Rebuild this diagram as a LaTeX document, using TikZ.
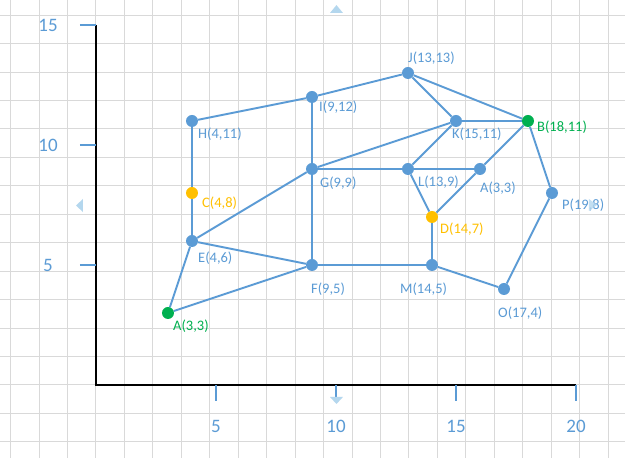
\documentclass[tikz,border=0pt]{standalone}
\usepackage{fontspec}
\setmainfont{Carlito}
\definecolor{gridc}{HTML}{D9D9D9}
\definecolor{blu}{HTML}{5B9BD5}
\definecolor{grn}{HTML}{00B050}
\definecolor{yel}{HTML}{FFC000}
\definecolor{hint}{HTML}{B4D7EE}
\tikzset{
  dotnode/.style={circle,fill=#1,inner sep=0pt,minimum size=12pt},
  dotnode/.default=blu,
  edge/.style={draw=blu,line width=1.9pt},
  lbl/.style={anchor=west,inner sep=0pt,text=#1,font=\fontsize{14.5}{17}\selectfont},
  lbl/.default=blu,
  axlbl/.style={inner sep=0pt,text=blu,font=\fontsize{19}{22}\selectfont},
  tick/.style={draw=blu,line width=1.5pt},
  hintmark/.style={fill=hint,draw=none}
}
\begin{document}
\begin{tikzpicture}[x=24pt,y=24pt]
\useasboundingbox (-4,-3.0417) rectangle (22.0417,16.0417);
\fill[white] (-4,-3.0417) rectangle (22.0417,16.0417);
\draw[gridc,line width=1pt] (-4,-3.0417) grid (22.0417,16.0417);
% axes
\draw[black,line width=1.5pt] (0,15) -- (0,0) -- (20,0);
\foreach \y in {5,10,15} \draw[tick] (-0.67,\y) -- (0,\y);
\foreach \x in {5,10,15,20} \draw[tick] (\x,0) -- (\x,-0.67);
\node[axlbl] (y15) at (-2,15) {15};
\node[axlbl] (y10) at (-2,10) {10};
\node[axlbl] (y5) at (-2,5) {5};
\node[axlbl] (x5) at (5,-1.71) {5};
\node[axlbl] (x10) at (10,-1.71) {10};
\node[axlbl] (x15) at (15,-1.71) {15};
\node[axlbl] (x20) at (20,-1.71) {20};
% hint markers
\fill[hintmark] (9.75,15.5) -- (10.29,15.5) -- (10.02,15.83) -- cycle;
\fill[hintmark] (-0.542,7.75) -- (-0.542,7.208) -- (-0.833,7.479) -- cycle;
\fill[hintmark] (9.75,-0.5) -- (10.29,-0.5) -- (10.02,-0.79) -- cycle;
% points
\node[dotnode=grn] (A) at (3,3) {};
\node[dotnode] (E) at (4,6) {};
\node[dotnode=yel] (C) at (4,8) {};
\node[dotnode] (H) at (4,11) {};
\node[dotnode] (I) at (9,12) {};
\node[dotnode] (J) at (13,13) {};
\node[dotnode] (G) at (9,9) {};
\node[dotnode] (F) at (9,5) {};
\node[dotnode] (K) at (15,11) {};
\node[dotnode=grn] (B) at (18,11) {};
\node[dotnode] (L) at (13,9) {};
\node[dotnode] (A2) at (16,9) {};
\node[dotnode=yel] (D) at (14,7) {};
\node[dotnode] (M) at (14,5) {};
\node[dotnode] (O) at (17,4) {};
\node[dotnode] (P) at (19,8) {};
% edges
\path[edge] (A) -- (E);
\path[edge] (A) -- (F);
\path[edge] (E) -- (C);
\path[edge] (C) -- (H);
\path[edge] (H) -- (I);
\path[edge] (I) -- (J);
\path[edge] (I) -- (G);
\path[edge] (G) -- (F);
\path[edge] (E) -- (G);
\path[edge] (E) -- (F);
\path[edge] (F) -- (M);
\path[edge] (M) -- (D);
\path[edge] (D) -- (L);
\path[edge] (D) -- (A2);
\path[edge] (G) -- (L);
\path[edge] (L) -- (A2);
\path[edge] (G) -- (K);
\path[edge] (L) -- (K);
\path[edge] (A2) -- (B);
\path[edge] (J) -- (K);
\path[edge] (J) -- (B);
\path[edge] (K) -- (B);
\path[edge] (B) -- (P);
\path[edge] (P) -- (O);
\path[edge] (O) -- (M);
% labels
\node[lbl=grn] (lA) at (3.208,2.458) {A(3,3)};
\node[lbl] (lE) at (4.25,5.292) {E(4,6)};
\node[lbl=yel] (lC) at (4.417,7.583) {C(4,8)};
\node[lbl] (lH) at (4.25,10.458) {H(4,11)};
\node[lbl] (lI) at (9.292,11.583) {I(9,12)};
\node[lbl] (lJ) at (13.0,13.625) {J(13,13)};
\node[lbl] (lG) at (9.333,8.417) {G(9,9)};
\node[lbl] (lF) at (8.958,4.0) {F(9,5)};
\node[lbl] (lK) at (14.833,10.458) {K(15,11)};
\node[lbl=grn] (lB) at (18.375,10.75) {B(18,11)};
\node[lbl] (lL) at (13.417,8.458) {L(13,9)};
\node[lbl] (lA2) at (16.0,8.208) {A(3,3)};
\node[lbl] (lP) at (19.417,7.5) {P(19,8)};
\node[lbl=yel] (lD) at (14.333,6.5) {D(14,7)};
\node[lbl] (lM) at (12.667,4.0) {M(14,5)};
\node[lbl] (lO) at (16.75,3.0) {O(17,4)};
\fill[hintmark,opacity=0.8] (20.54,7.75) -- (20.54,7.25) -- (20.875,7.5) -- cycle;
\end{tikzpicture}
\end{document}
